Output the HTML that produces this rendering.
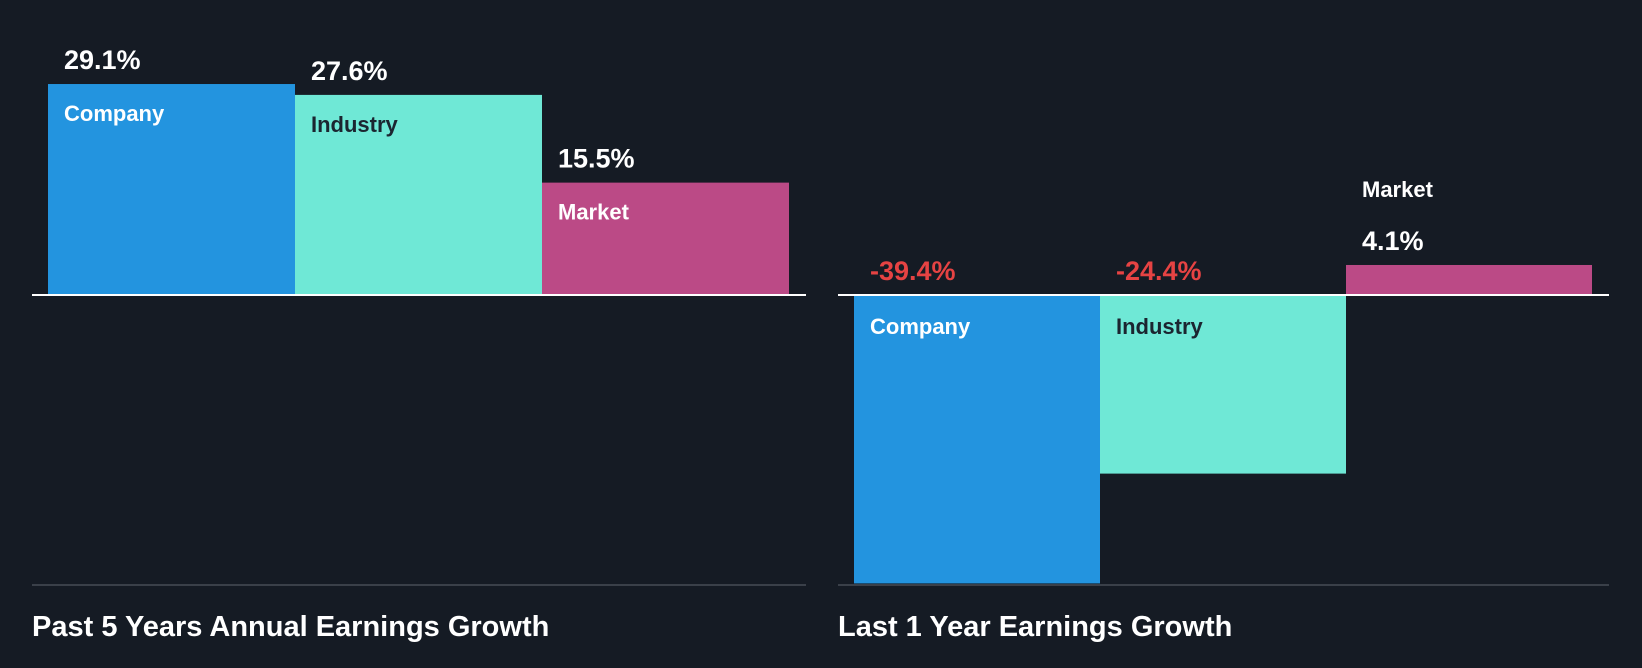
<!DOCTYPE html>
<html><head><meta charset="utf-8"><style>
html,body{margin:0;padding:0;background:#151b24;}
svg{display:block;font-family:"Liberation Sans",Arial,sans-serif;font-weight:bold;}
</style></head><body>
<svg id="chart" width="1642" height="668" viewBox="0 0 1642 668">
<rect width="1642" height="668" fill="#151b24"/>
<g id="g"></g>
<line x1="32" y1="585" x2="806" y2="585" stroke="#3a4049" stroke-width="2"/>
<line x1="838" y1="585" x2="1609" y2="585" stroke="#3a4049" stroke-width="2"/>
<text x="32" y="636" fill="#fff" font-size="29">Past 5 Years Annual Earnings Growth</text>
<text x="838" y="636" fill="#fff" font-size="29">Last 1 Year Earnings Growth</text>
</svg>
<script>
const categories = ["Company","Industry","Market"];
const past5Values = [29.1, 27.6, 15.5];
const last1Values = [-39.4, -24.4, 4.1];
const colors = ["#2394df","#6fe8d6","#bb4a86"];
const nameColors = ["#ffffff","#1b2530","#ffffff"];
const g = document.getElementById('g');
const NS = "http://www.w3.org/2000/svg";
function mk(tag, attrs){const e=document.createElementNS(NS,tag);for(const k in attrs)e.setAttribute(k,attrs[k]);g.appendChild(e);return e;}
function panel(values, x0, bandW, zeroY, scale, key){
  values.forEach((v,i)=>{
    const x = x0 + i*bandW;
    const h = Math.abs(v)*scale;
    const y = v>=0 ? zeroY-h : zeroY;
    const r = mk('rect',{x:x,y:y,width:bandW,height:h,fill:colors[i]});
    
    
    const label = (v>0?'':'')+v.toFixed(1)+'%';
    if(v>=0){
      const smallBar = h < 60;
      const t = mk('text',{x:x+16,y:y-15,fill:'#fff','font-size':27});
      t.textContent = label;
      
      
      const n = mk('text',{x:x+16,y:smallBar? y-68 : y+37,fill:smallBar?'#fff':nameColors[i],'font-size':22});
      n.textContent = categories[i];
      
      
    } else {
      const t = mk('text',{x:x+16,y:zeroY-15,fill:'#e64343','font-size':27});
      t.textContent = label;
      
      
      const n = mk('text',{x:x+16,y:zeroY+39,fill:nameColors[i],'font-size':22});
      n.textContent = categories[i];
      
      
    }
  });
}
panel(past5Values, 48, 247, 295, 7.25, 'past5');
panel(last1Values, 854, 246, 295, 7.32, 'last1');
const z1 = mk('line',{x1:32,y1:295,x2:806,y2:295,stroke:'#fff','stroke-width':2});


const z2 = mk('line',{x1:838,y1:295,x2:1609,y2:295,stroke:'#fff','stroke-width':2});


</script>
</body></html>
